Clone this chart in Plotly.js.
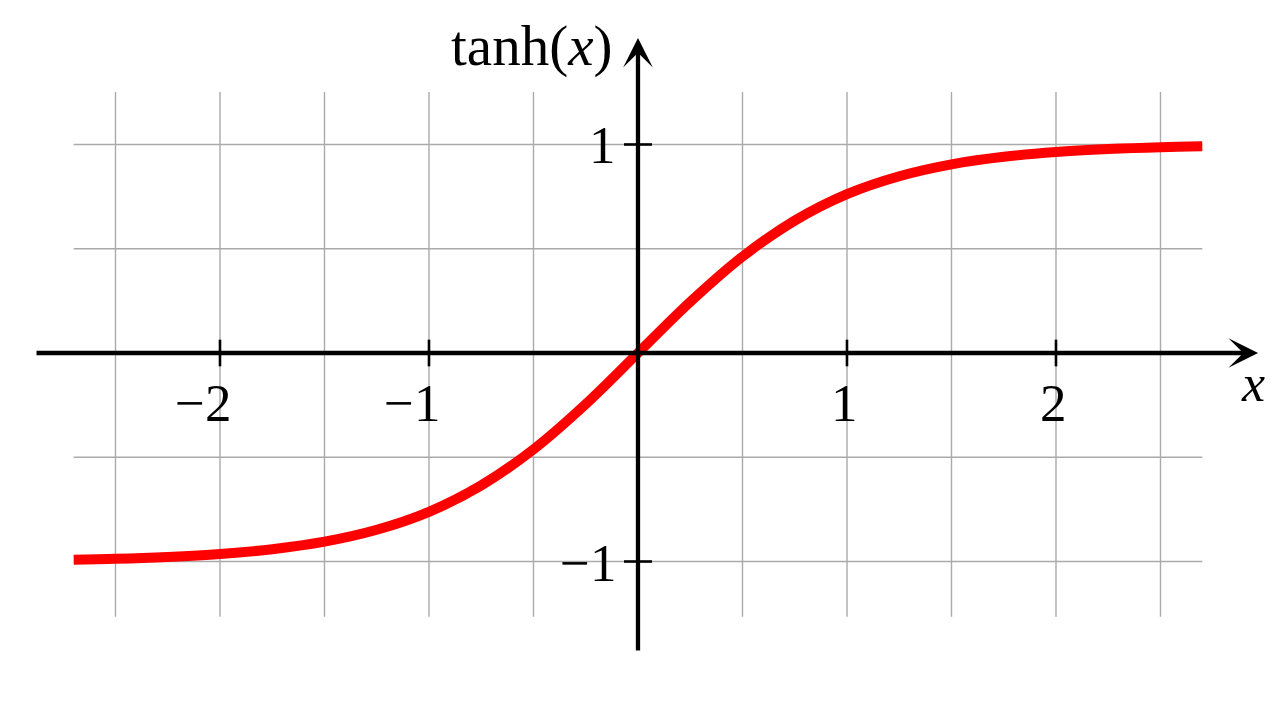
<!DOCTYPE html>
<html>
<head>
<meta charset="utf-8">
<script src="https://cdn.plot.ly/plotly-3.0.1.min.js"></script>
<style>
  html, body { margin: 0; padding: 0; background: #fff; }
  #chart { width: 1280px; height: 706px; }
</style>
</head>
<body>
<div id="chart"></div>
<script>
// curve
var curveX = [-2.7, -2.5, -2.25, -2, -1.75, -1.5, -1.25, -1, -0.75, -0.5, -0.25, 0,
              0.25, 0.5, 0.75, 1, 1.25, 1.5, 1.75, 2, 2.25, 2.5, 2.7]
var curveY = [-0.991, -0.987, -0.978, -0.964, -0.941, -0.905, -0.848, -0.762, -0.635, -0.462, -0.245, 0,
              0.245, 0.462, 0.635, 0.762, 0.848, 0.905, 0.941, 0.964, 0.978, 0.987, 0.991]

// grid and ticks
var gridX = [-2.5, -2, -1.5, -1, -0.5, 0, 0.5, 1, 1.5, 2, 2.5]
var gridY = [-1, -0.5, 0, 0.5, 1]
var xTickVals = [-2, -1, 1, 2]
var xTickText = ['\u22122', '\u22121', '1', '2']
var yTickVals = [-1, 1]
var yTickText = ['\u22121', '1']

var gridXExtent = [-2.7, 2.7]
var gridYExtent = [-1.265, 1.252]
var axisX = [-2.885, 2.967]
var axisY = [-1.434, 1.511]

var FONT = '"Liberation Serif", "DejaVu Serif", serif'
var shapes = []
var annotations = []

// light grid
for (var i=0;i<gridX.length;i++) {
    shapes.push({type: 'line', xref: 'x', yref: 'y', layer: 'below',
        x0: gridX[i], x1: gridX[i], y0: gridYExtent[0], y1: gridYExtent[1],
        line: {color: '#aaaaaa', width: 1.4}})
}
for (var i=0;i<gridY.length;i++) {
    shapes.push({type: 'line', xref: 'x', yref: 'y', layer: 'below',
        x0: gridXExtent[0], x1: gridXExtent[1], y0: gridY[i], y1: gridY[i],
        line: {color: '#aaaaaa', width: 1.4}})
}

// tick marks + labels
for (var i=0;i<xTickVals.length;i++) {
    shapes.push({type: 'line', xref: 'x', yref: 'y',
        x0: xTickVals[i], x1: xTickVals[i], y0: -0.064, y1: 0.064,
        line: {color: '#000', width: 2.6}})
    annotations.push({x: xTickVals[i], y: 0, xref: 'x', yref: 'y', showarrow: false,
        text: xTickText[i], xanchor: 'right', yanchor: 'middle', xshift: 13, yshift: -50,
        font: {family: FONT, size: 53, color: '#000'}})
}
for (var i=0;i<yTickVals.length;i++) {
    shapes.push({type: 'line', xref: 'x', yref: 'y',
        x0: -0.067, x1: 0.067, y0: yTickVals[i], y1: yTickVals[i],
        line: {color: '#000', width: 2.6}})
    annotations.push({x: 0, y: yTickVals[i], xref: 'x', yref: 'y', showarrow: false,
        text: yTickText[i], xanchor: 'right', yanchor: 'middle', xshift: -20, yshift: -1,
        font: {family: FONT, size: 53, color: '#000'}})
}

// axes with arrows
annotations.push({x: axisX[1], y: 0, ax: axisX[0], ay: 0, xref: 'x', yref: 'y', axref: 'x', ayref: 'y',
    text: '', showarrow: true, arrowhead: 3, arrowsize: 1.15, arrowwidth: 4.3, arrowcolor: '#000'})
annotations.push({x: 0, y: axisY[1], ax: 0, ay: axisY[0], xref: 'x', yref: 'y', axref: 'x', ayref: 'y',
    text: '', showarrow: true, arrowhead: 3, arrowsize: 1.15, arrowwidth: 4.3, arrowcolor: '#000'})

// axis names
annotations.push({x: axisX[1], y: 0, xref: 'x', yref: 'y', showarrow: false,
    text: '<i>x</i>', xanchor: 'center', yanchor: 'middle', xshift: -5, yshift: -30,
    font: {family: FONT, size: 52, color: '#000'}})
annotations.push({x: 0, y: axisY[1], xref: 'x', yref: 'y', showarrow: false,
    text: 'tanh(<i>x</i>)', xanchor: 'right', yanchor: 'middle', xshift: -24, yshift: -8,
    font: {family: FONT, size: 57, color: '#000'}})

var trace = {
    x: curveX,
    y: curveY,
    type: 'scatter',
    mode: 'lines',
    line: {color: '#ff0000', width: 10, shape: 'spline'},
    hoverinfo: 'none',
}

var layout = {
    width: 1280,
    height: 706,
    margin: {l: 0, r: 0, t: 0, b: 0},
    paper_bgcolor: '#fff',
    plot_bgcolor: '#fff',
    showlegend: false,
    xaxis: {range: [-3.0526, 3.0718], visible: false, fixedrange: true},
    yaxis: {range: [-1.693, 1.693], visible: false, fixedrange: true},
    shapes: shapes,
    annotations: annotations,
}

Plotly.newPlot('chart', [trace], layout, {displayModeBar: false, staticPlot: true})
</script>
</body>
</html>
